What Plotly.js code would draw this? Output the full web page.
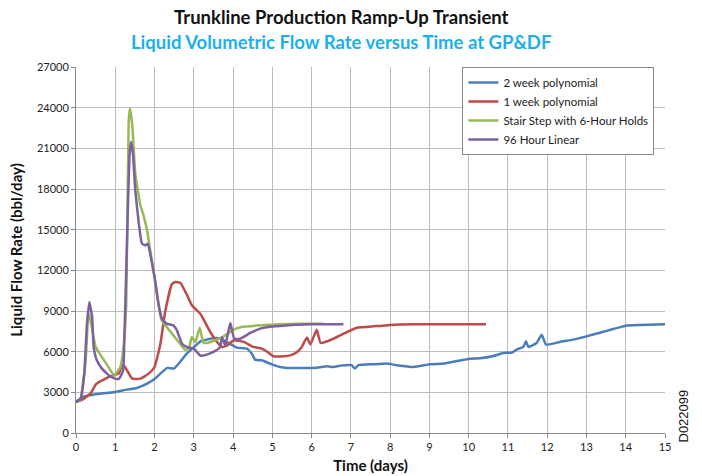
<!DOCTYPE html>
<html>
<head>
<meta charset="utf-8">
<script src="https://cdn.plot.ly/plotly-3.0.1.min.js"></script>
<style>
html,body{margin:0;padding:0;background:#fff;}
#chart{width:702px;height:476px;}
</style>
</head>
<body>
<div id="chart"></div>
<script>
// Series names
const seriesNames = ["2 week polynomial", "1 week polynomial", "Stair Step with 6-Hour Holds", "96 Hour Linear"];

// 2 week polynomial
const blueX = [0, 0.18, 0.28, 0.6, 1.0, 1.29, 1.55, 1.81, 2.0, 2.32, 2.49, 2.65, 2.82, 3.0, 3.17, 3.33, 3.59, 3.76, 4.0, 4.1, 4.35, 4.48, 4.56, 4.73, 4.94, 5.2, 5.37, 5.71, 6.13, 6.39, 6.56, 6.73, 7.02, 7.1, 7.19, 7.57, 7.91, 8.17, 8.6, 9.02, 9.36, 9.7, 10.04, 10.29, 10.63, 10.88, 11.1, 11.22, 11.39, 11.46, 11.52, 11.73, 11.86, 11.97, 12.32, 12.66, 13.0, 13.34, 13.68, 14.0, 14.36, 15.0];
const blueY = [2300, 2660, 2750, 2900, 3030, 3200, 3320, 3640, 3980, 4800, 4750, 5240, 5850, 6340, 6760, 6890, 7000, 6840, 6450, 6300, 6220, 5850, 5410, 5360, 5120, 4870, 4800, 4800, 4820, 4920, 4870, 4970, 5000, 4750, 5000, 5070, 5120, 5000, 4870, 5070, 5120, 5310, 5480, 5510, 5680, 5900, 5930, 6150, 6350, 6760, 6350, 6640, 7250, 6520, 6720, 6890, 7130, 7400, 7670, 7920, 7970, 8020];

// 1 week polynomial
const redX = [0, 0.15, 0.37, 0.52, 0.87, 1.09, 1.16, 1.21, 1.3, 1.43, 1.64, 1.85, 2.0, 2.15, 2.27, 2.44, 2.53, 2.66, 2.83, 2.95, 3.17, 3.42, 3.59, 3.72, 3.85, 4.02, 4.27, 4.52, 4.73, 4.9, 5.03, 5.29, 5.46, 5.63, 5.75, 5.88, 5.97, 6.13, 6.23, 6.56, 6.9, 7.15, 7.57, 7.75, 8.0, 8.25, 9.0, 10.44];
const redY = [2290, 2450, 2900, 3640, 4180, 4400, 4900, 5000, 4620, 4010, 4010, 4380, 4870, 6590, 8930, 10970, 11140, 11070, 10160, 9420, 8780, 7450, 6720, 6350, 6470, 6840, 6720, 6350, 6220, 5930, 5660, 5660, 5730, 5980, 6350, 7040, 6540, 7620, 6640, 6960, 7450, 7770, 7870, 7900, 7970, 8010, 8020, 8020];

// Stair Step with 6-Hour Holds
const greenX = [0, 0.1, 0.24, 0.32, 0.37, 0.5, 0.63, 0.8, 0.97, 1.13, 1.21, 1.28, 1.34, 1.37, 1.43, 1.51, 1.64, 1.72, 1.81, 1.89, 2.0, 2.1, 2.18, 2.31, 2.48, 2.65, 2.78, 2.87, 2.95, 3.04, 3.15, 3.25, 3.5, 3.76, 4.01, 4.22, 4.69, 5.2, 5.7, 6.3];
const greenY = [2290, 2410, 5110, 8810, 8310, 6340, 5730, 4990, 4250, 4870, 6340, 9560, 22820, 23930, 22820, 19130, 16800, 16060, 14950, 13480, 11510, 9540, 8310, 7820, 7200, 6590, 6150, 6220, 7080, 6710, 7770, 6640, 6790, 7130, 7620, 7820, 7940, 8020, 8060, 8060];

// 96 Hour Linear
const purpleX = [0, 0.12, 0.21, 0.28, 0.34, 0.41, 0.45, 0.53, 0.66, 0.87, 0.99, 1.1, 1.2, 1.23, 1.3, 1.36, 1.4, 1.45, 1.51, 1.6, 1.68, 1.77, 1.83, 1.89, 2.0, 2.1, 2.19, 2.31, 2.48, 2.57, 2.7, 2.83, 3.0, 3.17, 3.33, 3.5, 3.67, 3.72, 3.8, 3.93, 4.03, 4.18, 4.44, 4.69, 4.9, 5.2, 5.97, 6.81];
const purpleY = [2290, 2530, 4380, 8070, 9660, 8560, 6340, 5360, 4750, 4180, 4010, 4010, 4620, 6840, 14210, 20360, 21470, 20610, 17900, 15440, 13970, 13840, 13970, 13230, 11510, 9540, 8430, 8070, 7940, 7570, 6590, 6340, 6220, 5700, 5780, 5980, 6340, 7040, 6470, 8110, 6960, 6960, 7380, 7700, 7820, 7900, 8020, 8020];

// Axis ticks
const xTicks = [0,1,2,3,4,5,6,7,8,9,10,11,12,13,14,15];
const yTicks = [0,3000,6000,9000,12000,15000,18000,21000,24000,27000];

const colors = ["#4a7ebb", "#be4b48", "#98b954", "#7d60a0"];
const xs = [blueX, redX, greenX, purpleX];
const ys = [blueY, redY, greenY, purpleY];

const traces = seriesNames.map((n, i) => ({
  x: xs[i], y: ys[i], name: n, type: "scatter", mode: "lines",
  line: {color: colors[i], width: 2.5, shape: "spline", smoothing: 0.4}
}));

const font = "Lato, 'Open Sans', sans-serif";
const layout = {
  width: 702, height: 476,
  margin: {l: 76, r: 37, t: 67, b: 43},
  paper_bgcolor: "#fff", plot_bgcolor: "#fff",
  font: {family: font, color: "#222"},
  showlegend: true,
  legend: {
    x: 0.656, y: 1, xanchor: "left", yanchor: "top",
    bgcolor: "#fff", bordercolor: "#888", borderwidth: 1,
    font: {family: font, size: 11.5, color: "#222"},
    itemwidth: 30, tracegroupgap: 0, tracegroupgap: 0
  },
  xaxis: {
    range: [0, 15], tickvals: xTicks, ticktext: xTicks.map(String),
    showgrid: true, gridcolor: "#bdbdbd", gridwidth: 1,
    showline: true, linecolor: "#888", ticks: "outside", ticklen: 4, tickcolor: "#888",
    zeroline: false, tickfont: {family: font, size: 11, color: "#222"},
    title: {text: "<b>Time (days)</b>", font: {family: font, size: 15, color: "#111"}, standoff: 8}
  },
  yaxis: {
    range: [0, 27000], tickvals: yTicks, ticktext: yTicks.map(String),
    showgrid: true, gridcolor: "#bdbdbd", gridwidth: 1,
    showline: true, linecolor: "#888", ticks: "outside", ticklen: 4, tickcolor: "#888",
    zeroline: false, tickfont: {family: font, size: 11, color: "#222"},
    title: {text: "<b>Liquid Flow Rate (bbl/day)</b>", font: {family: font, size: 15, color: "#111"}, standoff: 10}
  },
  annotations: [
    {text: "<b>Trunkline Production Ramp-Up Transient</b>", xref: "paper", yref: "paper",
     x: 0.45, y: 1, xanchor: "center", yshift: 50, yanchor: "middle", showarrow: false,
     font: {family: font, size: 18.5, color: "#111"}},
    {text: "<b>Liquid Volumetric Flow Rate versus Time at GP&amp;DF</b>", xref: "paper", yref: "paper",
     x: 0.45, y: 1, xanchor: "center", yshift: 25, yanchor: "middle", showarrow: false,
     font: {family: font, size: 18.5, color: "#1ab0ee"}},
    {text: "D022099", xref: "paper", yref: "paper", x: 1, y: 0, xanchor: "center", yanchor: "bottom",
     xshift: 18, yshift: -12, textangle: -90, showarrow: false,
     font: {family: "Liberation Sans, Arial, sans-serif", size: 13, color: "#111"}}
  ]
};

Plotly.newPlot("chart", traces, layout, {displayModeBar: false, staticPlot: true});
</script>
</body>
</html>
